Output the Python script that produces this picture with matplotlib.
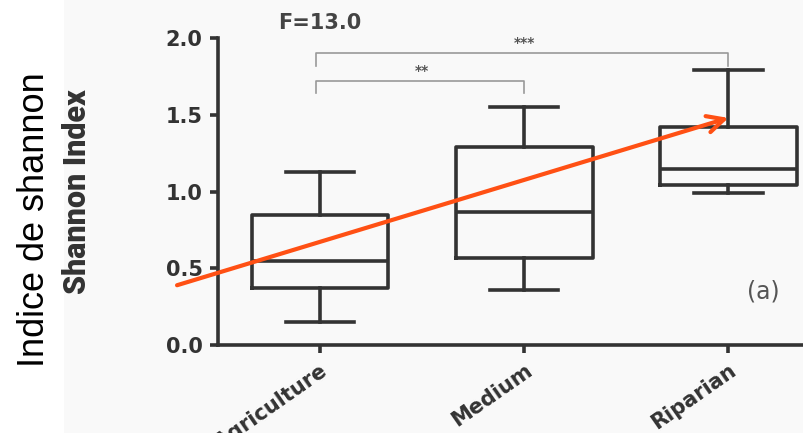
import matplotlib.pyplot as plt
from matplotlib.patches import Rectangle

# box plot values
groups = ['Agriculture', 'Medium', 'Riparian']
whis_lo = [0.15, 0.36, 0.99]
q1 = [0.37, 0.57, 1.04]
median = [0.55, 0.87, 1.15]
q3 = [0.85, 1.29, 1.42]
whis_hi = [1.13, 1.55, 1.79]

yticks = [0.0, 0.5, 1.0, 1.5, 2.0]

# significance brackets: (group a, group b, height, stars)
brackets = [(0, 1, 1.72, '**'), (0, 2, 1.90, '***')]

# overlay arrow (start, end) in data units
arrow_start = (-0.70, 0.39)
arrow_end = (2.0, 1.48)

dark = '#333333'

fig = plt.figure(figsize=(8.04, 4.33), dpi=100)
fig.patch.set_facecolor('white')
fig.patches.append(Rectangle((0.08, 0), 0.92, 1, transform=fig.transFigure,
                             facecolor='#f9f9f9', edgecolor='none', zorder=-10))

ax = fig.add_axes([0.271, 0.203, 0.729, 0.709])
ax.patch.set_alpha(0)

stats = []
for i, g in enumerate(groups):
    stats.append({'label': g, 'whislo': whis_lo[i], 'q1': q1[i], 'med': median[i],
                  'q3': q3[i], 'whishi': whis_hi[i], 'fliers': []})

line = dict(color=dark, linewidth=2.6)
ax.bxp(stats, positions=range(len(groups)), widths=0.67, showfliers=False,
       boxprops=line, whiskerprops=line, capprops=line, medianprops=line)

ax.set_xlim(-0.5, 2.37)
ax.set_ylim(0, 2.0)
ax.set_yticks(yticks)
ax.set_yticklabels([f'{t:.1f}' for t in yticks])
ax.set_xticks(range(len(groups)))
# the first label runs off the bottom edge, as in the source picture
ax.set_xticklabels(groups, rotation=35, ha='right', rotation_mode='anchor',
                   fontsize=15, fontweight='bold', color=dark)

for lab in ax.get_yticklabels():
    lab.set_fontsize(15)
    lab.set_fontweight('bold')
    lab.set_color(dark)

for s in ['top', 'right']:
    ax.spines[s].set_visible(False)
for s in ['left', 'bottom']:
    ax.spines[s].set_linewidth(2.6)
    ax.spines[s].set_color(dark)
ax.tick_params(axis='both', width=2.6, length=6, color=dark, pad=5)

ax.set_ylabel('Shannon Index', fontsize=22, fontweight='black', color=dark,
              family='Roboto')
ax.yaxis.set_label_coords(-0.215, 0.5)

# significance brackets
for a, b, h, stars in brackets:
    ax.plot([a - 0.02, a - 0.02, b, b], [h - 0.08, h, h, h - 0.08],
            color='#999999', linewidth=1.2, clip_on=False)
    ax.text((a + b) / 2, h + 0.02, stars, ha='center', va='bottom',
            fontsize=10, fontweight='bold', color='#555555')

ax.text(0.0, 2.10, 'F=13.0', ha='center', va='center', fontsize=15,
        fontweight='bold', color='#444444', clip_on=False)
ax.text(2.17, 0.35, '(a)', ha='center', va='center', fontsize=17, color='#555555')

ax.annotate('', xy=arrow_end, xytext=arrow_start, annotation_clip=False,
            arrowprops=dict(arrowstyle='->', color='#ff5014', lw=3,
                            mutation_scale=30, shrinkA=0, shrinkB=0))

fig.text(0.043, 0.492, 'Indice de shannon', rotation=90, ha='center', va='center',
         fontsize=26, family='Liberation Sans', color='black')

fig.savefig('out.png', dpi=100)
